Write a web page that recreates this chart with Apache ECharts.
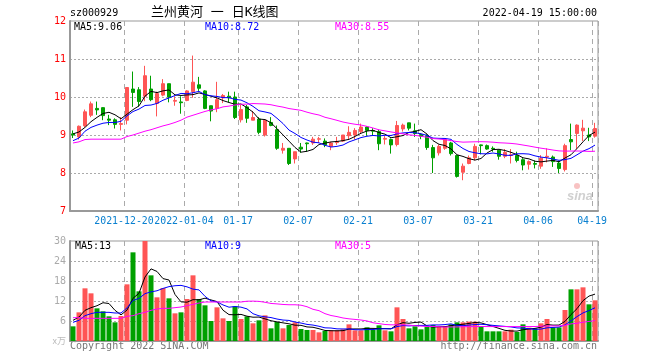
<!DOCTYPE html>
<html>
<head>
<meta charset="utf-8">
<script src="https://cdn.jsdelivr.net/npm/echarts@6/dist/echarts.min.js"></script>
<style>html,body{margin:0;padding:0;background:#fff;}#c{width:660px;height:360px;}</style>
</head>
<body>
<div id="c"></div>
<script>
const dates = [
'2021-12-07','2021-12-08','2021-12-09','2021-12-10','2021-12-13','2021-12-14','2021-12-15','2021-12-16','2021-12-17','2021-12-20',
'2021-12-21','2021-12-22','2021-12-23','2021-12-24','2021-12-27','2021-12-28','2021-12-29','2021-12-30','2021-12-31','2022-01-04',
'2022-01-05','2022-01-06','2022-01-07','2022-01-10','2022-01-11','2022-01-12','2022-01-13','2022-01-14','2022-01-17','2022-01-18',
'2022-01-19','2022-01-20','2022-01-21','2022-01-24','2022-01-25','2022-01-26','2022-01-27','2022-01-28','2022-02-07','2022-02-08',
'2022-02-09','2022-02-10','2022-02-11','2022-02-14','2022-02-15','2022-02-16','2022-02-17','2022-02-18','2022-02-21','2022-02-22',
'2022-02-23','2022-02-24','2022-02-25','2022-02-28','2022-03-01','2022-03-02','2022-03-03','2022-03-04','2022-03-07','2022-03-08',
'2022-03-09','2022-03-10','2022-03-11','2022-03-14','2022-03-15','2022-03-16','2022-03-17','2022-03-18','2022-03-21','2022-03-22',
'2022-03-23','2022-03-24','2022-03-25','2022-03-28','2022-03-29','2022-03-30','2022-03-31','2022-04-01','2022-04-06','2022-04-07',
'2022-04-08','2022-04-11','2022-04-12','2022-04-13','2022-04-14','2022-04-15','2022-04-18','2022-04-19'];

const opens = [9.03,8.95,9.24,9.52,9.70,9.72,9.42,9.40,9.28,9.39,
10.21,10.19,10.02,10.21,9.83,10.05,10.35,9.89,9.87,9.91,
10.14,10.32,10.16,9.77,9.70,9.98,10.02,10.00,9.40,9.74,
9.39,9.42,9.00,9.33,9.14,8.60,8.65,8.37,8.68,8.79,
8.79,8.89,8.84,8.70,8.80,8.84,8.98,9.00,9.09,9.21,
9.12,9.09,8.89,8.88,8.75,9.16,9.32,9.11,9.01,8.98,
8.67,8.53,8.65,8.79,8.46,8.02,8.25,8.40,8.74,8.72,
8.65,8.60,8.44,8.46,8.46,8.35,8.23,8.25,8.18,8.42,
8.42,8.26,8.09,8.88,9.04,9.11,9.00,8.97];
const closes = [9.00,9.23,9.61,9.82,9.66,9.51,9.39,9.28,9.30,10.25,
10.12,9.88,10.56,9.93,10.09,10.35,10.00,9.91,9.85,10.16,
10.39,10.23,9.70,9.63,9.93,10.04,9.98,9.46,9.67,9.44,
9.46,9.07,9.39,9.25,8.65,8.65,8.25,8.56,8.63,8.77,
8.89,8.90,8.74,8.79,8.83,9.00,9.07,9.12,9.21,9.12,
9.10,8.77,8.91,8.74,9.25,9.26,9.18,9.04,8.97,8.67,
8.40,8.70,8.88,8.51,7.91,8.18,8.40,8.70,8.72,8.63,
8.63,8.44,8.54,8.48,8.33,8.21,8.30,8.23,8.39,8.44,
8.30,8.12,8.72,8.82,9.26,9.18,8.95,9.17];
const lows = [8.92,8.88,9.21,9.47,9.53,9.39,9.26,9.17,9.12,9.28,
9.74,9.75,9.89,9.89,9.49,10.02,9.86,9.77,9.56,9.89,
9.98,10.16,9.68,9.36,9.60,9.84,9.86,9.42,9.33,9.32,
9.39,9.02,8.96,9.23,8.61,8.51,8.21,8.25,8.53,8.56,
8.74,8.79,8.68,8.60,8.74,8.82,8.88,8.88,9.05,8.98,
8.98,8.60,8.75,8.51,8.70,9.09,9.12,8.95,8.89,8.61,
8.00,8.46,8.61,8.46,7.88,7.81,8.23,8.33,8.49,8.61,
8.56,8.35,8.39,8.25,8.28,8.07,8.09,8.12,8.11,8.28,
8.16,8.00,8.04,8.60,8.63,8.84,8.84,8.93];
const highs = [9.12,9.25,9.67,9.88,9.88,9.73,9.53,9.44,9.47,10.25,
10.67,10.26,10.82,10.56,10.14,10.47,10.35,10.02,10.02,10.18,
11.09,10.53,10.18,9.77,10.40,10.08,10.14,10.14,9.79,9.79,
9.63,9.47,9.42,9.47,9.25,8.79,8.65,8.56,8.79,8.80,
8.95,8.95,8.91,8.82,8.95,9.00,9.23,9.18,9.30,9.23,
9.18,9.14,8.98,8.91,9.37,9.30,9.32,9.30,9.04,9.02,
8.74,8.75,8.89,8.82,8.47,8.25,8.46,8.77,8.75,8.75,
8.70,8.61,8.63,8.63,8.56,8.39,8.33,8.33,8.47,8.65,
8.46,8.32,8.77,9.30,9.28,9.40,9.19,9.32];
// volumes in 万手
const volumes = [4.4,8.6,15.8,14.3,9.8,8.9,7.4,5.6,7.5,17.0,
26.6,14.9,30.0,19.7,13.1,15.9,12.8,8.3,8.6,12.6,
19.7,12.6,10.7,6.0,10.1,6.8,6.0,10.4,6.6,7.4,
5.3,6.2,7.7,3.8,5.7,3.8,4.8,5.6,3.6,3.3,
3.3,2.6,3.0,3.2,3.2,3.5,5.0,3.2,3.2,4.1,
3.4,4.7,3.2,2.9,10.1,6.6,3.8,4.4,3.5,4.3,
4.8,4.5,4.4,5.0,5.6,5.6,5.8,5.8,4.4,2.9,
2.9,2.9,2.9,3.4,2.7,5.0,4.0,3.8,5.3,6.6,
4.1,4.1,9.3,15.5,15.5,16.1,11.0,12.2];

// moving-average values for days whose window starts before the shown range
const ma5Head = [9.03,9.08,9.20,9.35];
const ma10Head = [8.85,8.92,9.10,9.20,9.26,9.31,9.33,9.33,9.36];
const ma30Head = [8.79,8.82,8.88,8.89,8.89,8.89,8.89,8.89,8.89,8.96,9.00,9.05,9.10,9.14,9.19,9.24,9.28,9.33,9.39,9.47,9.52,9.57,9.62,9.66,9.69,9.74,9.76,9.79,9.81];
const volMa5Head = [6.2,7.2,9.2,10.0];
const volMa10Head = [5.6,6.2,7.6,8.2,8.6,8.6,8.6,8.4,8.4];
const volMa30Head = [7.0,7.0,6.8,6.8,6.8,6.8,6.8,6.8,6.8,7.4,7.6,8.2,8.6,9.2,9.6,9.8,9.8,10.0,10.2,10.6,11.0,11.4,11.7,11.7,11.7,11.7,11.7,11.7,11.7];

const tickDates = ['2021-12-20','2022-01-04','2022-01-17','2022-02-07','2022-02-21','2022-03-07','2022-03-21','2022-04-06','2022-04-19'];
const tickTexts = ['2021-12-20','2022-01-04','01-17','02-07','02-21','03-07','03-21','04-06','04-19'];

const priceTicks = [7,8,9,10,11,12];
const volTicks = [0,6,12,18,24,30];

const headerCode = 'sz000929';
const headerTitle = '兰州黄河 一 日K线图';
const headerTime = '2022-04-19 15:00:00';
const maPriceLabels = ['MA5:9.06','MA10:8.72','MA30:8.55'];
const maVolLabels = ['MA5:13','MA10:9','MA30:5'];

function movingAvg(vals, n, head) {
  return vals.map((v, i) => {
    if (i < n - 1) return head[i];
    let s = 0;
    for (let j = i - n + 1; j <= i; j++) s += vals[j];
    return +(s / n).toFixed(3);
  });
}

const UP = '#ff5555', DOWN = '#00a000';
const MONO = '"DejaVu Sans Mono", monospace';
const kData = dates.map((d, i) => [opens[i], closes[i], lows[i], highs[i]]);
const volData = volumes.map((v, i) => ({value: v, itemStyle: {color: closes[i] >= opens[i] ? UP : DOWN}}));

const showTick = (idx) => tickDates.indexOf(dates[idx]) >= 0;
const tickText = (val) => { const k = tickDates.indexOf(val); return k >= 0 ? tickTexts[k] : ''; };

const gridBorder = '#999';
const splitH = {show: true, showMinLine: false, showMaxLine: false, lineStyle: {color: '#aaa', type: [2, 2], width: 1}};
const splitV = {show: true, interval: (i) => showTick(i), lineStyle: {color: '#aaa', type: [5, 4], width: 1}};

const chart = echarts.init(document.getElementById('c'), null, {renderer: 'canvas'});
const lineS = (name, data, color, xi) => ({
  name, type: 'line', data, xAxisIndex: xi, yAxisIndex: xi, symbol: 'none', silent: true,
  lineStyle: {color, width: 1}, z: 5, animation: false
});

chart.setOption({
  animation: false,
  backgroundColor: '#fff',
  grid: [
    {left: 70, top: 21, width: 528, height: 190, show: true, borderColor: gridBorder, borderWidth: 1},
    {left: 70, top: 241, width: 528, height: 100, show: true, borderColor: gridBorder, borderWidth: 1}
  ],
  xAxis: [
    {type: 'category', gridIndex: 0, data: dates, boundaryGap: true,
     axisLine: {show: true, lineStyle: {color: gridBorder, width: 2}}, axisTick: {show: false},
     axisLabel: {interval: (i) => showTick(i), formatter: tickText, color: '#0a80d0', fontFamily: MONO, fontSize: 9.9, margin: 5, padding: [0, 3, 0, -3], hideOverlap: false},
     splitLine: splitV},
    {type: 'category', gridIndex: 1, data: dates, boundaryGap: true,
     axisLine: {show: true, lineStyle: {color: gridBorder, width: 2}}, axisTick: {show: false},
     axisLabel: {show: false}, splitLine: splitV}
  ],
  yAxis: [
    {type: 'value', gridIndex: 0, min: priceTicks[0], max: priceTicks[priceTicks.length - 1], interval: 1,
     axisLine: {show: true, lineStyle: {color: gridBorder, width: 2}}, axisTick: {show: false},
     axisLabel: {color: '#ff0000', fontFamily: MONO, fontSize: 10, margin: 4}, splitLine: splitH},
    {type: 'value', gridIndex: 1, min: volTicks[0], max: volTicks[volTicks.length - 1], interval: 6,
     axisLine: {show: true, lineStyle: {color: gridBorder, width: 2}}, axisTick: {show: false},
     axisLabel: {color: '#aaa', fontFamily: MONO, fontSize: 10, margin: 4,
       formatter: (v) => v === 0 ? '{u|x万}' : String(v),
       rich: {u: {color: '#bbb', fontSize: 9, fontFamily: '"Noto Sans CJK SC", sans-serif'}}},
     splitLine: splitH}
  ],
  series: [
    {type: 'candlestick', xAxisIndex: 0, yAxisIndex: 0, data: kData, barWidth: 4, silent: true,
     itemStyle: {color: UP, color0: DOWN, borderColor: UP, borderColor0: DOWN, borderWidth: 1}},
    lineS('MA5', movingAvg(closes, 5, ma5Head), '#000000', 0),
    lineS('MA10', movingAvg(closes, 10, ma10Head), '#0000ff', 0),
    lineS('MA30', movingAvg(closes, 30, ma30Head), '#ff00ff', 0),
    {type: 'bar', xAxisIndex: 1, yAxisIndex: 1, data: volData, barWidth: 5, silent: true},
    lineS('VMA5', movingAvg(volumes, 5, volMa5Head), '#000000', 1),
    lineS('VMA10', movingAvg(volumes, 10, volMa10Head), '#0000ff', 1),
    lineS('VMA30', movingAvg(volumes, 30, volMa30Head), '#ff00ff', 1)
  ],
  graphic: [
    {type: 'text', x: 70, y: 13, style: {text: headerCode, font: '10px ' + MONO, fill: '#000', textVerticalAlign: 'middle'}},
    {type: 'text', x: 151, y: 13, style: {text: headerTitle, font: '13px "DejaVu Sans Mono", "Noto Sans CJK SC", sans-serif', fill: '#000', textVerticalAlign: 'middle'}},
    {type: 'text', x: 597, y: 13, style: {text: headerTime, font: '10px ' + MONO, fill: '#000', textAlign: 'right', textVerticalAlign: 'middle'}},
    {type: 'text', x: 74, y: 27, z: 10, style: {text: maPriceLabels[0], font: '10px ' + MONO, fill: '#000', textVerticalAlign: 'middle'}},
    {type: 'text', x: 205, y: 27, z: 10, style: {text: maPriceLabels[1], font: '10px ' + MONO, fill: '#0000ff', textVerticalAlign: 'middle'}},
    {type: 'text', x: 335, y: 27, z: 10, style: {text: maPriceLabels[2], font: '10px ' + MONO, fill: '#ff00ff', textVerticalAlign: 'middle'}},
    {type: 'text', x: 75, y: 246, z: 10, style: {text: maVolLabels[0], font: '10px ' + MONO, fill: '#000', textVerticalAlign: 'middle'}},
    {type: 'text', x: 205, y: 246, z: 10, style: {text: maVolLabels[1], font: '10px ' + MONO, fill: '#0000ff', textVerticalAlign: 'middle'}},
    {type: 'text', x: 335, y: 246, z: 10, style: {text: maVolLabels[2], font: '10px ' + MONO, fill: '#ff00ff', textVerticalAlign: 'middle'}},
    {type: 'text', x: 70, y: 346, style: {text: 'Copyright 2022 SINA.COM', font: '10px ' + MONO, fill: '#777', textVerticalAlign: 'middle'}},
    {type: 'text', x: 597, y: 346, style: {text: 'http://finance.sina.com.cn', font: '10px ' + MONO, fill: '#777', textAlign: 'right', textVerticalAlign: 'middle'}},
    {type: 'circle', shape: {cx: 577, cy: 186, r: 3}, style: {fill: 'rgba(240,120,120,0.45)'}, z: 1},
    {type: 'text', x: 580, y: 196, z: 1, style: {text: 'sina', font: 'italic bold 13px "Liberation Sans", sans-serif', fill: 'rgba(150,150,150,0.45)', textAlign: 'center', textVerticalAlign: 'middle'}}
  ]
});
</script>
</body>
</html>
